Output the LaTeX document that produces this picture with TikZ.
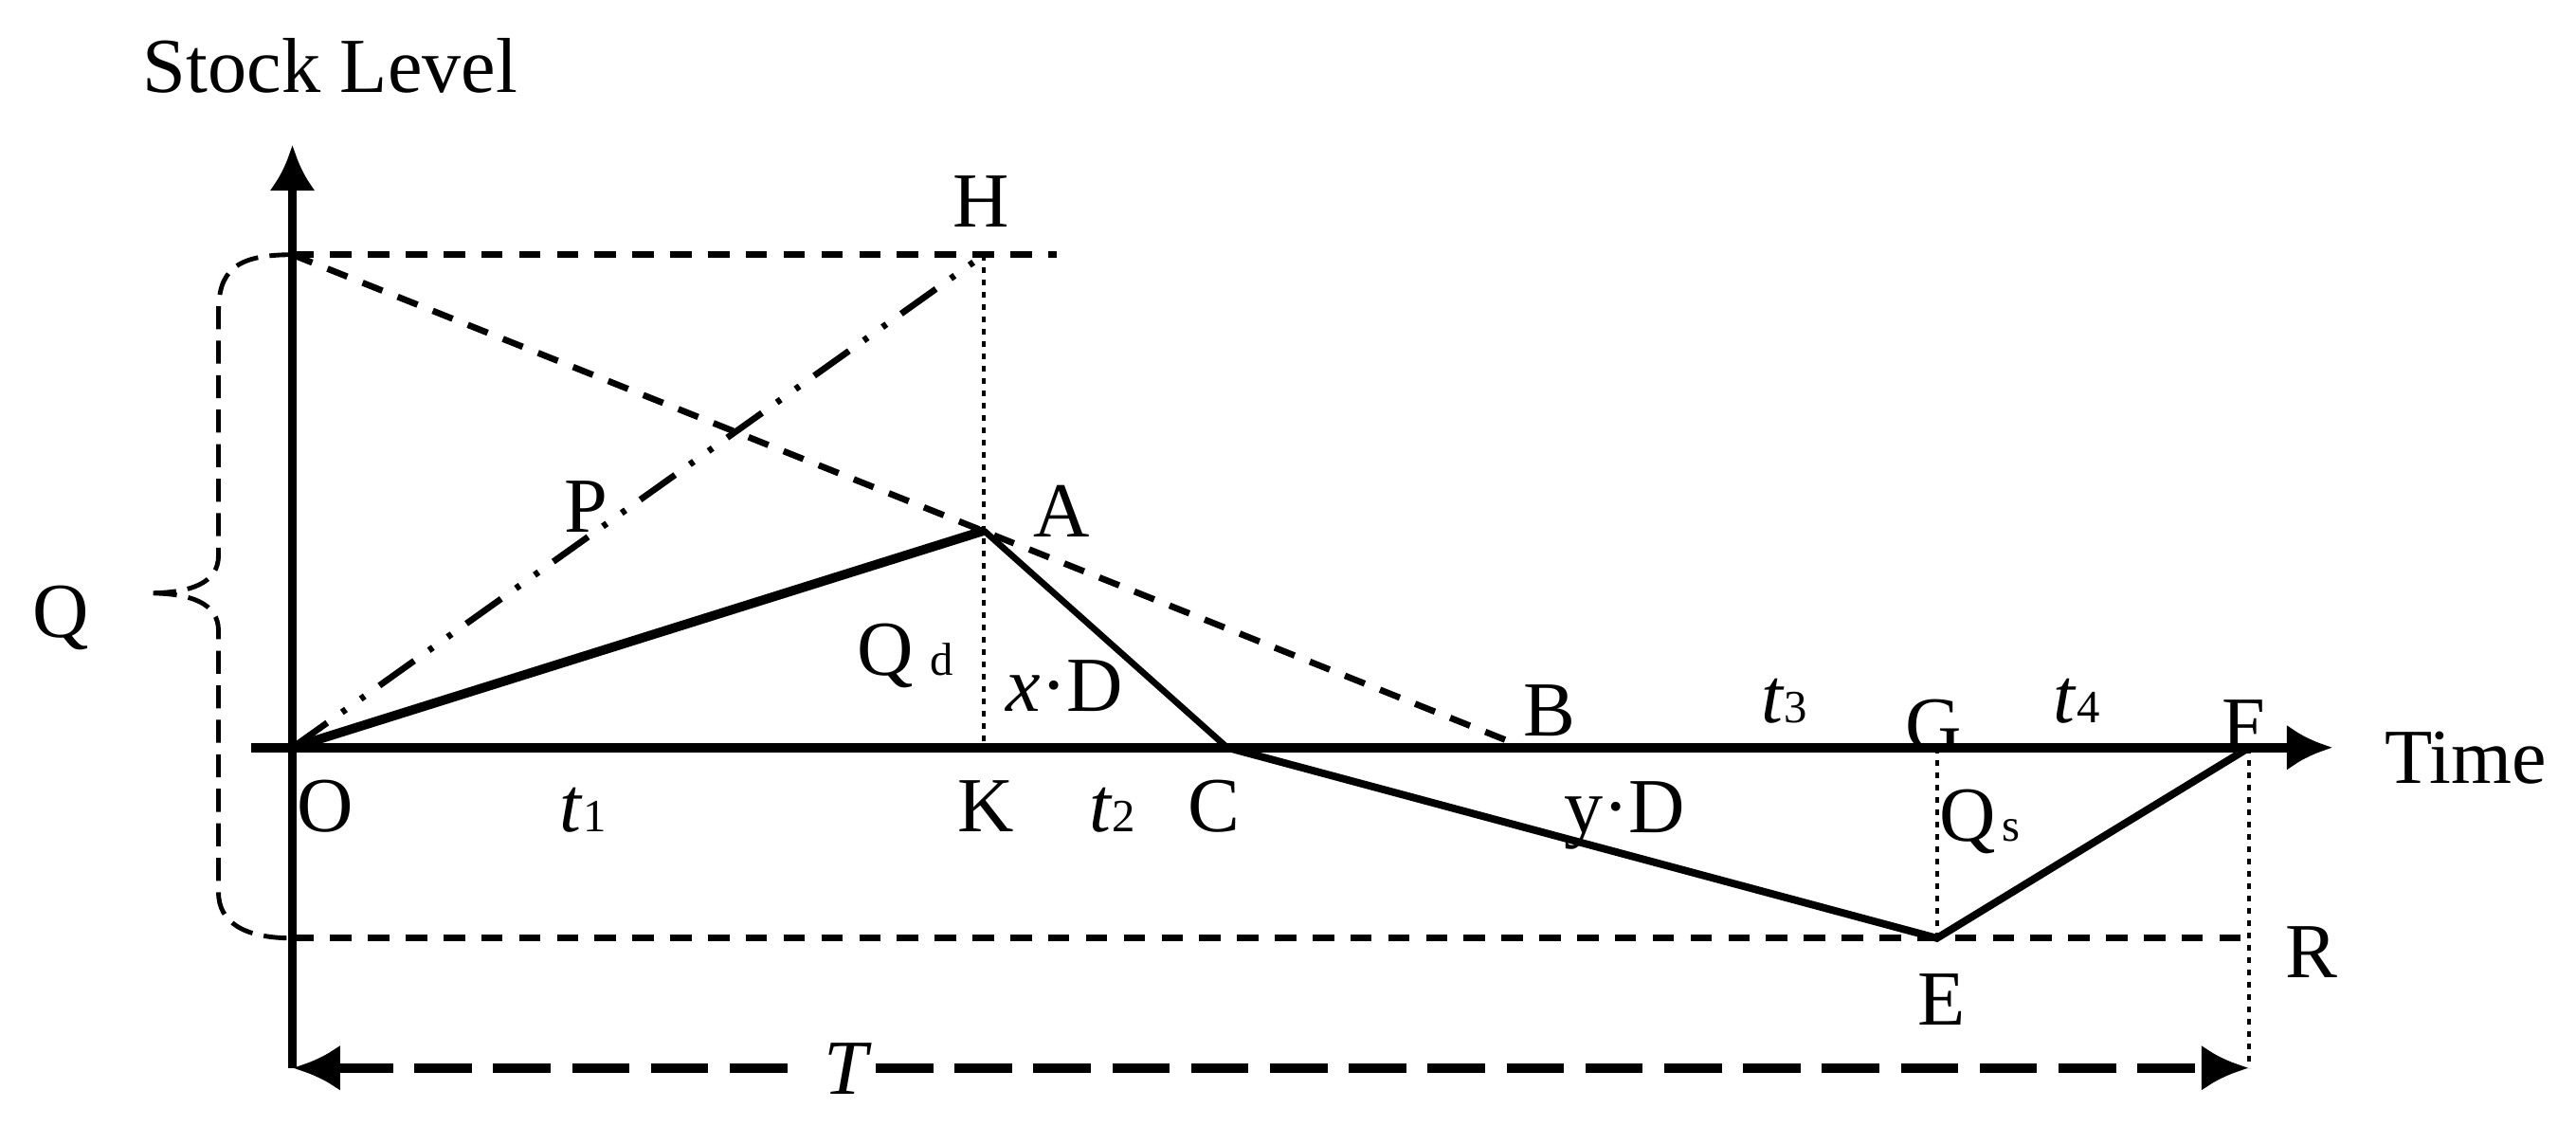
\documentclass[tikz,border=0pt]{standalone}
\usepackage{fontspec}
\setmainfont{Liberation Serif}
\usetikzlibrary{arrows.meta}

\newcommand{\sm}[1]{{\fontsize{8}{8}\selectfont #1}}

\begin{document}
\begin{tikzpicture}[x=0.1mm,y=0.1mm,
	lab/.style={font=\fontsize{13.5}{15}\selectfont,inner sep=0pt,anchor=base},
	axis/.style={line width=1.6pt,-{Latex[length=2.8mm,width=2.8mm]}},
	level/.style={line width=1.3pt,line join=miter},
	guide/.style={line width=1.1pt,dash pattern=on 1.3mm off 1mm},
	drop/.style={line width=0.6pt,dash pattern=on 0.35mm off 0.4mm},
	prod/.style={line width=1.1pt,dash pattern=on 2.6mm off 1.1mm on 0.3mm off 1.1mm on 0.3mm off 1.1mm},
	brace/.style={line width=0.8pt,dash pattern=on 1.4mm off 0.7mm},
	span/.style={line width=1.6pt,dash pattern=on 3.5mm off 1.3mm}]

\useasboundingbox (-178,-230) rectangle (1390,455);

% points of the cycle
\coordinate (O) at (0,0);
\coordinate (Qt) at (0,300);
\coordinate (Qb) at (0,-116);
\coordinate (H) at (421,300);
\coordinate (Hr) at (465,300);
\coordinate (A) at (421,132);
\coordinate (K) at (421,0);
\coordinate (C) at (569,0);
\coordinate (B) at (750,0);
\coordinate (G) at (1001,0);
\coordinate (E) at (1001,-116);
\coordinate (F) at (1191,0);
\coordinate (R) at (1191,-116);
\coordinate (Ytop) at (0,367);
\coordinate (Xl) at (-25,0);
\coordinate (Xr) at (1242,0);
\coordinate (Tl) at (0,-195);
\coordinate (Tr) at (1191,-195);
\coordinate (Ta) at (314,-195);
\coordinate (Tb) at (355,-195);

% guides
\draw[guide] (Qt) -- (Hr);
\draw[guide] (Qt) -- (B);
\draw[guide] (Qb) -- (R);
\draw[prod] (O) -- (H);
\draw[drop] (H) -- (K);
\draw[drop] (G) -- (E);
\draw[drop] (F) -- (Tr);

% axes
\draw[axis] (Tl) -- (Ytop);
\draw[axis] (Xl) -- (Xr);

% stock level
\draw[level,line width=1.6pt] (O) -- (A);
\draw[level,line width=1.1pt] (A) -- (C);
\draw[level] (C) -- (E) -- (F);

% brace for Q
\draw[brace] (Qt) .. controls (-35,300) and (-45,290) .. (-45,265) -- (-45,117)
	.. controls (-45,100) and (-62,94) .. (-88,94)
	.. controls (-62,94) and (-45,88) .. (-45,71) -- (-45,-88)
	.. controls (-45,-106) and (-30,-116) .. (Qb);

% period T
\draw[span,{Latex[length=2.9mm,width=2.8mm]}-] (Tl) -- (Ta);
\draw[span,-{Latex[length=2.9mm,width=2.8mm]}] (Tb) -- (Tr);

% labels
\node[lab] (SL) at (23,399) {Stock Level};
\node[lab] (lH) at (419,317) {H};
\node[lab] (lP) at (179,131) {P};
\node[lab] (lA) at (468,128) {A};
\node[lab] (lQd) at (373,44) {Q\hspace{3pt}\sm{d}};
\node[lab] (lxD) at (470,22) {\textit{x}·D};
\node[lab] (lO) at (20,-51) {O};
\node[lab] (lt1) at (177,-51) {\textit{t}\sm{1}};
\node[lab] (lK) at (422,-51) {K};
\node[lab] (lt2) at (499,-51) {\textit{t}\sm{2}};
\node[lab] (lC) at (561,-51) {C};
\node[lab] (lB) at (765,7) {B};
\node[lab] (lt3) at (908,15) {\textit{t}\sm{3}};
\node[lab] (lG) at (999,-2) {G};
\node[lab] (lt4) at (1086,15) {\textit{t}\sm{4}};
\node[lab] (lF) at (1188,-2) {F};
\node[lab] (lTime) at (1323,-22) {Time};
\node[lab] (lyD) at (811,-52) {y·D};
\node[lab] (lQs) at (1027,-57) {Q\hspace{1pt}\sm{s}};
\node[lab] (lE) at (1004,-169) {E};
\node[lab] (lR) at (1229,-140) {R};
\node[lab] (lQ) at (-141,67) {Q};
\node[lab] (lT) at (338,-211) {\textit{T}};

\end{tikzpicture}
\end{document}
